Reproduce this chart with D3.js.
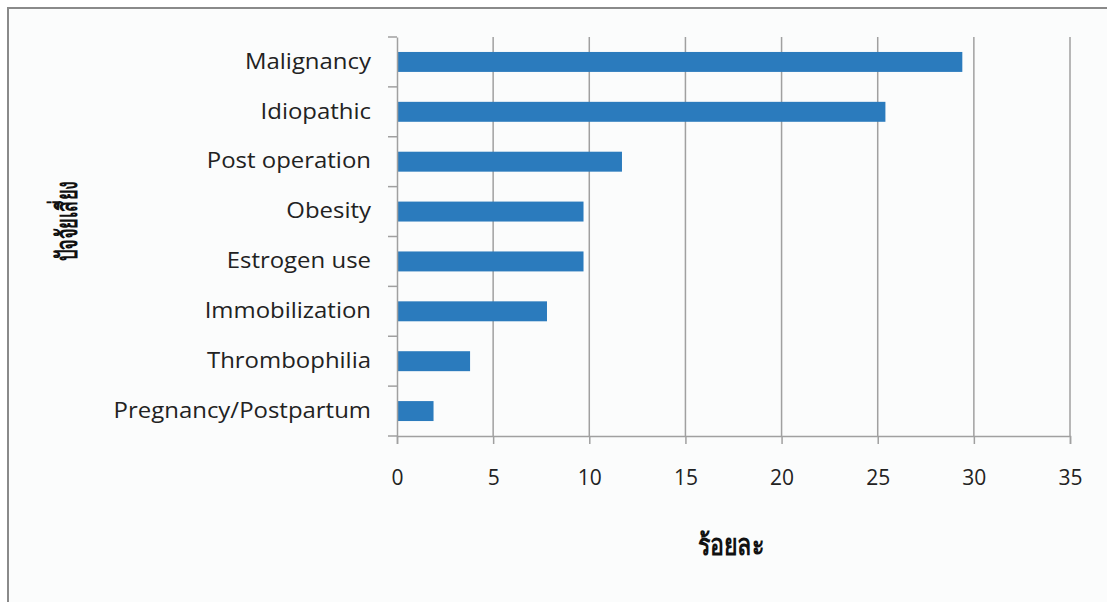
<!DOCTYPE html>
<html><head><meta charset="utf-8">
<script src="https://cdn.jsdelivr.net/npm/d3@7"></script>
<style>body{margin:0;background:#fff}svg{display:block}</style>
</head><body>
<script>
const categories = ["Malignancy","Idiopathic","Post operation","Obesity","Estrogen use","Immobilization","Thrombophilia","Pregnancy/Postpartum"];
const values = [29.4,25.4,11.7,9.7,9.7,7.8,3.8,1.9];
const xTicks = [0,5,10,15,20,25,30,35];
const yTitle = "ปัจจัยเสี่ยง";
const xTitle = "ร้อยละ";

const W=1107,H=602;
const svg=d3.select("body").append("svg").attr("width",W).attr("height",H);
svg.append("rect").attr("x",0).attr("y",0).attr("width",W).attr("height",H).attr("fill","#fff");
svg.append("rect").attr("x",8).attr("y",8).attr("width",W+10).attr("height",H+10)
  .attr("fill","#fbfcfc").attr("stroke","#8a8a8a").attr("stroke-width",2);

const pL=397,pR=1070,pT=37,pB=436;
const x=d3.scaleLinear().domain([0,35]).range([pL,pR]);
const y=d3.scaleBand().domain(categories).range([pT,pB]).paddingInner(0.6).paddingOuter(0.3);
const FONT="'Open Sans', Lato, sans-serif";

// grid
svg.append("g").selectAll("line").data(xTicks.slice(1)).join("line")
  .attr("x1",d=>x(d)).attr("x2",d=>x(d)).attr("y1",pT).attr("y2",pB)
  .attr("stroke","#a0a0a0").attr("stroke-width",1.5);

// bars
svg.append("g").selectAll("rect").data(values).join("rect")
  .attr("x",x(0)).attr("y",(d,i)=>y(categories[i]))
  .attr("width",d=>x(d)-x(0)).attr("height",y.bandwidth())
  .attr("fill","#2b7bbd");

// x axis
const xa=svg.append("g").attr("transform",`translate(0,${pB})`)
  .call(d3.axisBottom(x).tickValues(xTicks).tickSize(8).tickPadding(26));
xa.select(".domain").attr("stroke","#a0a0a0").attr("stroke-width",1.5);
xa.selectAll(".tick line").attr("stroke","#a0a0a0").attr("stroke-width",1.5);
xa.selectAll("text").attr("font-family",FONT).attr("font-size",21).attr("fill","#222");

// y axis
const ya=svg.append("g").attr("transform",`translate(${pL},0)`)
  .call(d3.axisLeft(y).tickSize(0).tickPadding(26));
ya.select(".domain").attr("stroke","#a0a0a0").attr("stroke-width",1.5);
ya.selectAll("text").attr("font-family",FONT).attr("font-size",21).attr("fill","#222");
ya.selectAll("text").each(function(){
  const w=this.getComputedTextLength();
  d3.select(this).attr("textLength",w*1.14).attr("lengthAdjust","spacingAndGlyphs");
});
// boundary ticks
const bounds=d3.range(categories.length+1).map(i=>pT+i*(pB-pT)/categories.length);
svg.append("g").selectAll("line").data(bounds).join("line")
  .attr("x1",pL-9).attr("x2",pL).attr("y1",d=>d).attr("y2",d=>d)
  .attr("stroke","#a0a0a0").attr("stroke-width",1.5);

// titles
svg.append("text").attr("x",731).attr("y",555).attr("text-anchor","middle")
  .attr("font-family","'DejaVu Serif', serif").attr("font-weight","bold").attr("font-size",29)
  .attr("fill","#111").attr("textLength",67).attr("lengthAdjust","spacingAndGlyphs").text(xTitle);
svg.append("text").attr("transform","translate(77,221) rotate(-90)").attr("text-anchor","middle")
  .attr("font-family","'DejaVu Serif', serif").attr("font-weight","bold").attr("font-size",29)
  .attr("fill","#111").attr("textLength",80).attr("lengthAdjust","spacingAndGlyphs").text(yTitle);
</script>
</body></html>
